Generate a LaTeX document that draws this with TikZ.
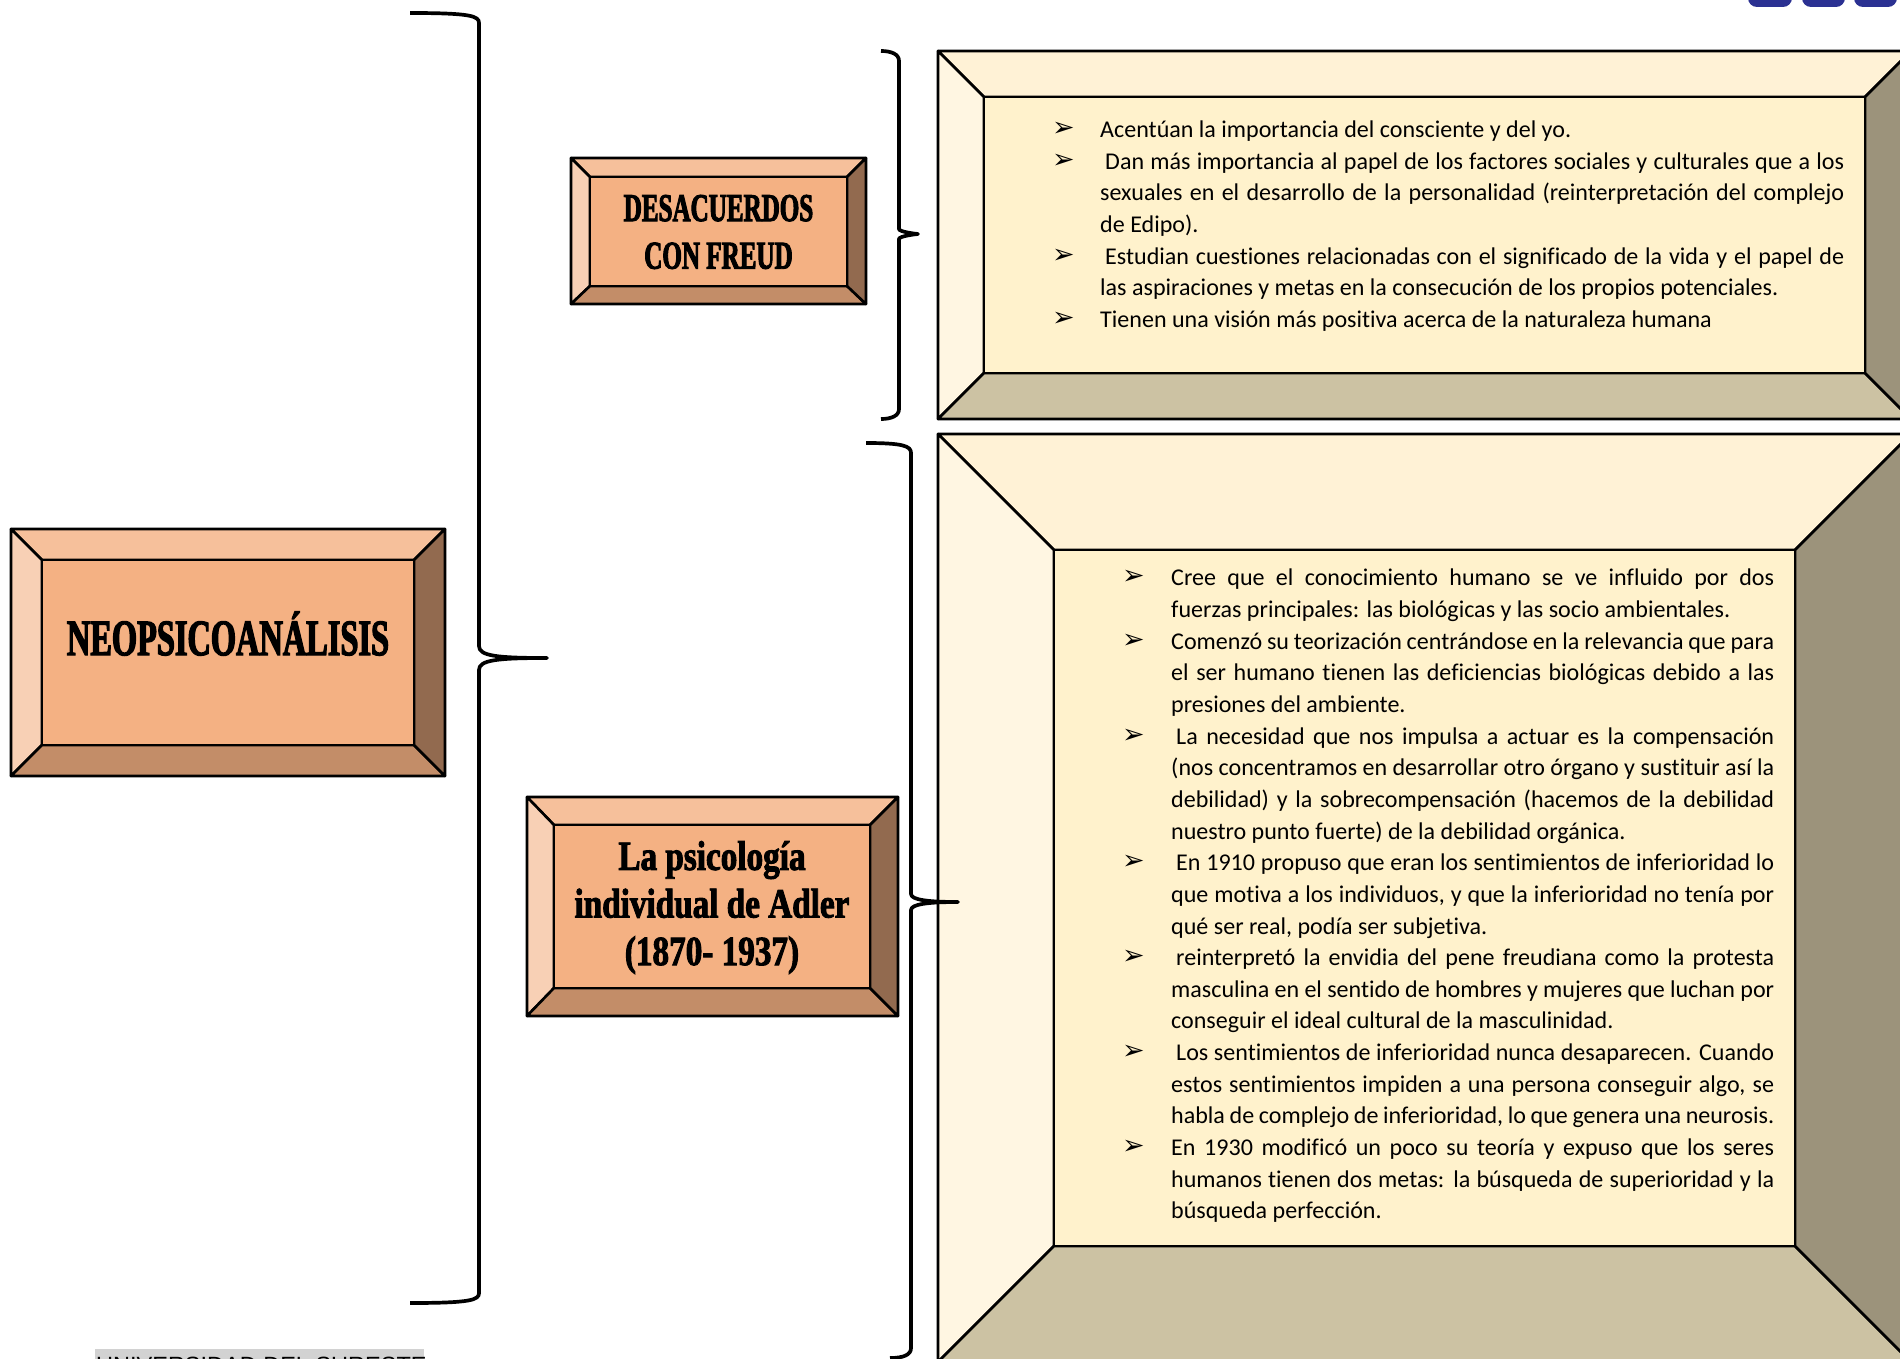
\documentclass[tikz,border=0pt]{standalone}
\usepackage{fontspec}
\setmainfont{Carlito}[Ligatures=NoCommon]
\newfontfamily\headfont[FakeStretch=0.635,FakeBold=2.4]{Liberation Serif Bold}
\newfontfamily\headfontb[FakeStretch=0.8,FakeBold=2.2]{Liberation Serif Bold}
\newfontfamily\arrowfont{DejaVu Sans}
\newfontfamily\footfont{Liberation Sans}
\definecolor{otop}{HTML}{F6C09B}
\definecolor{oleft}{HTML}{F8D0B5}
\definecolor{ocen}{HTML}{F4B183}
\definecolor{obot}{HTML}{C38D68}
\definecolor{oright}{HTML}{926A4F}
\definecolor{ytop}{HTML}{FFF2D6}
\definecolor{yleft}{HTML}{FFF6E2}
\definecolor{ycen}{HTML}{FFF2CC}
\definecolor{ybot}{HTML}{CCC2A3}
\definecolor{yright}{HTML}{9C937B}
\definecolor{logoblue}{HTML}{2B3192}
\definecolor{footgray}{HTML}{D2D2D2}
\tikzset{
  panel/.style={draw=black,line width=2.6pt,inner sep=0pt,align=center},
  bev/.style={draw=black,line width=2.6pt,line join=round},
  brace/.style={draw=black,line width=3.7pt,line cap=butt,line join=round},
  listtext/.style={anchor=north west,inner sep=0pt,align=justify}
}
% prefix, outer x0 y0 x1 y1, inner x0 y0 x1 y1
\newcommand\bevelbox[9]{%
  \fill[#1top] (#2,#3) rectangle (#4,#5);
  \draw[bev,fill=#1top] (#2,#3) -- (#4,#3) -- (#8,#7) -- (#6,#7) -- cycle;
  \draw[bev,fill=#1left] (#2,#3) -- (#6,#7) -- (#6,#9) -- (#2,#5) -- cycle;
  \draw[bev,fill=#1bot] (#2,#5) -- (#6,#9) -- (#8,#9) -- (#4,#5) -- cycle;
  \draw[bev,fill=#1right] (#4,#3) -- (#8,#7) -- (#8,#9) -- (#4,#5) -- cycle;
}
% xstart ytop xv ytip xtip ybot xend tipflare
\newcommand\curlybrace[8]{%
  \draw[brace] (#1,#2) .. controls ({#3-8},#2) and (#3,{#2+3}) .. (#3,{#2+10})
    -- (#3,{#4-#8})
    .. controls (#3,{#4-2}) and ({#3+18},#4) .. (#5,#4)
    .. controls ({#3+18},#4) and (#3,{#4+2}) .. (#3,{#4+#8})
    -- (#3,{#6-10})
    .. controls (#3,{#6-3}) and ({#3-8},#6) .. (#7,#6);
}
\newlength\bltindent
\setlength\bltindent{46pt}
\newcommand\blt{\par\noindent\hangindent=\bltindent\hangafter=1 \makebox[\bltindent][l]{\hspace{-2pt}\raisebox{1pt}{\arrowfont\fontsize{27}{27}\selectfont ➢}}}
\begin{document}
\begin{tikzpicture}[x=1pt,y=-1pt]
\useasboundingbox (0,0) rectangle (1900,1359);
\clip (0,0) rectangle (1900,1359);
\fill[white] (0,0) rectangle (1900,1359);
% logo fragments
\fill[logoblue,rounded corners=9pt] (1748,-20) rectangle (1792,7);
\fill[logoblue,rounded corners=9pt] (1802,-20) rectangle (1845,7);
\fill[logoblue,rounded corners=9pt] (1854,-20) rectangle (1897,7);
% footer
\node[anchor=north west,fill=footgray,minimum width=329pt,minimum height=30pt,inner sep=0pt] (footer) at (95,1349) {};
\node[anchor=north west,inner sep=0pt,font=\footfont\fontsize{23.5}{26}\selectfont] (footertext) at (96,1357) {UNIVERSIDAD DEL SURESTE};
% orange boxes
\bevelbox{o}{11}{529}{445}{776}{42}{560}{414}{745}
\node[panel,fill=ocen,minimum width=372pt,minimum height=185pt] (neo) at (228,652.5) {};
\node[inner sep=0pt,font=\headfont\fontsize{51}{51}\selectfont] (neotext) at (228,633.5) {NEOPSICOANÁLISIS};
\bevelbox{o}{571}{158}{866}{304}{590}{177}{847}{286}
\node[panel,fill=ocen,minimum width=257pt,minimum height=109pt] (desac) at (718.5,231.5) {};
\node[inner sep=0pt,align=center,font=\headfont\fontsize{39.5}{47.6}\selectfont] (desactext) at (718.5,232) {DESACUERDOS\\CON FREUD};
\bevelbox{o}{527}{797}{898}{1016}{554}{825}{870}{988}
\node[panel,fill=ocen,minimum width=316pt,minimum height=163pt] (adler) at (712,906.5) {};
\node[inner sep=0pt,align=center,font=\headfontb\fontsize{41.5}{47.6}\selectfont] (adlertext) at (712,907.5) {La psicología\\individual de Adler\\(1870- 1937)};
% yellow boxes
\bevelbox{y}{938}{51}{1911}{419}{984}{97}{1865}{373}
\node[panel,fill=ycen,minimum width=881pt,minimum height=276pt] (desacue) at (1424.5,235) {};
\bevelbox{y}{938}{434}{1911}{1362}{1054}{550}{1795}{1246}
\node[panel,fill=ycen,minimum width=741pt,minimum height=696pt] (adlerbox) at (1424.5,898) {};
% lists
\node[listtext,text width=790pt,font=\fontsize{24.05}{31.7}\selectfont] (list1) at (1054,105.5) {%
\blt Acentúan la importancia del consciente y del yo.
\blt\hspace{5pt}Dan más importancia al papel de los factores sociales y culturales que a los\linebreak
sexuales en el desarrollo de la personalidad (reinterpretación del complejo\linebreak
de Edipo).
\blt\hspace{5pt}Estudian cuestiones relacionadas con el significado de la vida y el papel de\linebreak
las aspiraciones y metas en la consecución de los propios potenciales.
\blt Tienen una visión más positiva acerca de la naturaleza humana\par};
\node[listtext,text width=650pt,font=\fontsize{24.05}{31.65}\selectfont] (list2) at (1124,554) {%
\setlength\bltindent{47pt}%
\blt Cree que el conocimiento humano se ve influido por dos\linebreak
fuerzas principales: las biológicas y las socio ambientales.
\blt Comenzó su teorización centrándose en la relevancia que para\linebreak
el ser humano tienen las deficiencias biológicas debido a las\linebreak
presiones del ambiente.
\blt\hspace{5pt}La necesidad que nos impulsa a actuar es la compensación\linebreak
(nos concentramos en desarrollar otro órgano y sustituir así la\linebreak
debilidad) y la sobrecompensación (hacemos de la debilidad\linebreak
nuestro punto fuerte) de la debilidad orgánica.
\blt\hspace{5pt}En 1910 propuso que eran los sentimientos de inferioridad lo\linebreak
que motiva a los individuos, y que la inferioridad no tenía por\linebreak
qué ser real, podía ser subjetiva.
\blt\hspace{5pt}reinterpretó la envidia del pene freudiana como la protesta\linebreak
masculina en el sentido de hombres y mujeres que luchan por\linebreak
conseguir el ideal cultural de la masculinidad.
\blt\hspace{5pt}Los sentimientos de inferioridad nunca desaparecen. Cuando\linebreak
estos sentimientos impiden a una persona conseguir algo, se\linebreak
habla de complejo de inferioridad, lo que genera una neurosis.
\blt En 1930 modificó un poco su teoría y expuso que los seres\linebreak
humanos tienen dos metas: la búsqueda de superioridad y la\linebreak
búsqueda perfección.\par};
% braces
\curlybrace{410}{13}{479}{658}{547}{1303}{410}{12}
\curlybrace{881}{51}{899}{234}{918}{419}{881}{5}
\curlybrace{866}{443}{911}{902}{958}{1358}{890}{8}
\end{tikzpicture}
\end{document}
